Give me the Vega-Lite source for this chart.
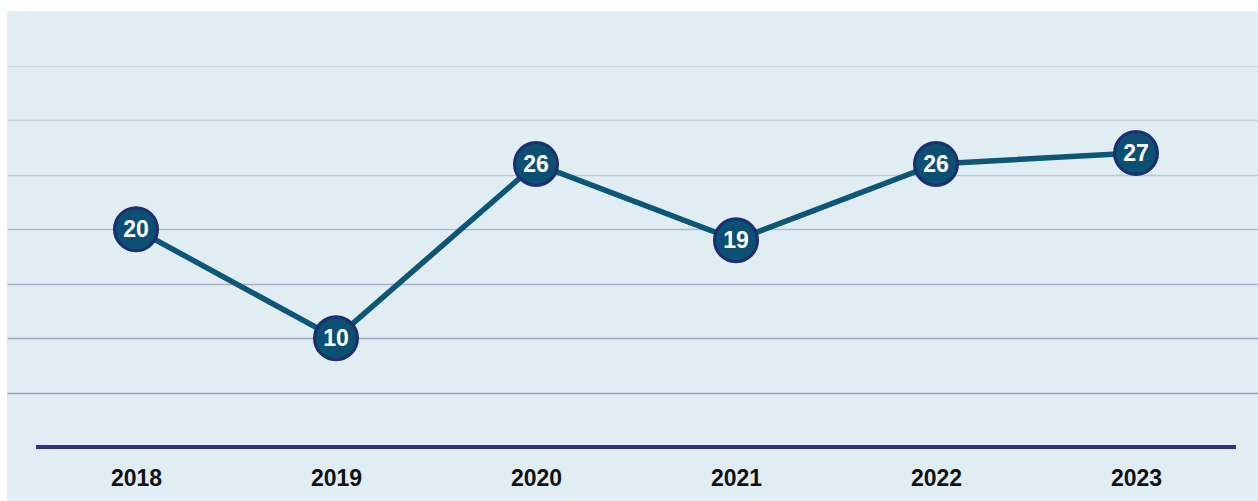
{
  "$schema": "https://vega.github.io/schema/vega-lite/v6.json",
  "width": 1251,
  "height": 490,
  "autosize": {"type": "none"},
  "padding": {"left": 7, "top": 11, "right": 0, "bottom": 0},
  "background": "#ffffff",
  "config": {
    "view": {"fill": "#e0eef4", "stroke": null},
    "font": "Liberation Sans"
  },
  "data": {
    "values": [
      {"year": 2018, "value": 20},
      {"year": 2019, "value": 10},
      {"year": 2020, "value": 26},
      {"year": 2021, "value": 19},
      {"year": 2022, "value": 26},
      {"year": 2023, "value": 27}
    ]
  },
  "encoding": {
    "x": {
      "field": "year",
      "type": "quantitative",
      "scale": {"domain": [2017.355, 2023.61], "nice": false, "zero": false},
      "axis": {
        "title": null,
        "values": [2018, 2019, 2020, 2021, 2022, 2023],
        "format": "d",
        "domain": false,
        "ticks": false,
        "grid": false,
        "offset": -23,
        "labelPadding": 0,
        "labelBaseline": "middle",
        "labelFont": "Liberation Sans",
        "labelFontWeight": "bold",
        "labelFontSize": 23,
        "labelColor": "#111111",
        "labelFlush": false
      }
    },
    "y": {
      "field": "value",
      "type": "quantitative",
      "scale": {"domain": [-4.96, 40.05], "nice": false, "zero": false},
      "axis": {
        "title": null,
        "values": [5, 10, 15, 20, 25, 30, 35],
        "labels": false,
        "ticks": false,
        "domain": false,
        "grid": true,
        "gridWidth": 1.5,
        "gridColor": {
          "condition": [
            {"test": "datum.value <= 5", "value": "#9099b3"},
            {"test": "datum.value <= 10", "value": "#9aa8bd"},
            {"test": "datum.value <= 15", "value": "#a4b2c4"},
            {"test": "datum.value <= 20", "value": "#adbccb"},
            {"test": "datum.value <= 25", "value": "#b8c6d2"},
            {"test": "datum.value <= 30", "value": "#c3d0da"}
          ],
          "value": "#cdd9e0"
        }
      }
    }
  },
  "layer": [
    {
      "mark": {"type": "rule", "color": "#2e2f8c", "strokeWidth": 3.5},
      "encoding": {
        "x": {"datum": 2017.5, "type": "quantitative"},
        "x2": {"datum": 2023.5},
        "y": {"datum": 0, "type": "quantitative"}
      }
    },
    {
      "mark": {"type": "line", "color": "#0e5676", "strokeWidth": 5.5}
    },
    {
      "mark": {"type": "point", "shape": "circle", "filled": true, "size": 1850, "fill": "#0b4f73", "stroke": "#1c2d70", "strokeWidth": 3, "opacity": 1}
    },
    {
      "mark": {"type": "text", "color": "#ffffff", "fontWeight": "bold", "fontSize": 23, "baseline": "middle", "align": "center", "dy": 1, "font": "Liberation Sans"},
      "encoding": {"text": {"field": "value", "type": "quantitative"}}
    }
  ]
}
